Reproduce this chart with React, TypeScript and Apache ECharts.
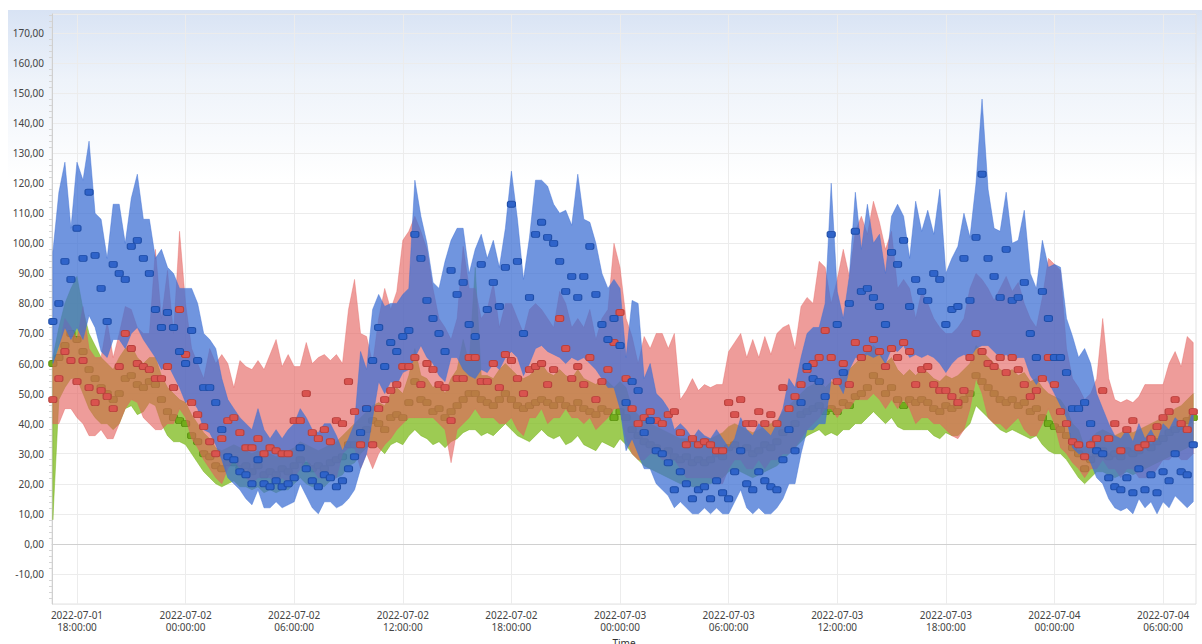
import React, { useEffect, useRef } from "react";
import * as echarts from "echarts";

// X axis is expressed in hours since 2022-07-01 00:00; one sample every 20 minutes from 16:40
const START_HOUR = 16 + 40 / 60;
const STEP_HOURS = 1 / 3;
const X_MIN = 16.62;
const X_MAX = 79.82;

const xTickHours = [18, 24, 30, 36, 42, 48, 54, 60, 66, 72, 78];
const xTickLabels = [
  "2022-07-01\n18:00:00", "2022-07-02\n00:00:00", "2022-07-02\n06:00:00", "2022-07-02\n12:00:00",
  "2022-07-02\n18:00:00", "2022-07-03\n00:00:00", "2022-07-03\n06:00:00", "2022-07-03\n12:00:00",
  "2022-07-03\n18:00:00", "2022-07-04\n00:00:00", "2022-07-04\n06:00:00",
];

const blueMean = [
  74, 80, 94, 88, 105, 95, 117, 96, 85, 74,
  93, 90, 88, 99, 101, 95, 90, 78, 72, 77,
  72, 64, 60, 71, 61, 52, 52, 47, 38, 29,
  28, 24, 23, 20, 28, 20, 19, 21, 19, 20,
  22, 32, 25, 21, 19, 23, 22, 19, 21, 25,
  29, 37, 45, 61, 72, 59, 67, 64, 69, 71,
  103, 95, 81, 75, 70, 64, 91, 83, 87, 73,
  69, 93, 78, 87, 79, 92, 113, 94, 70, 82,
  103, 107, 102, 100, 94, 84, 89, 82, 89, 99,
  83, 73, 68, 75, 66, 47, 54, 51, 37, 41,
  31, 30, 27, 18, 24, 20, 15, 18, 19, 15,
  21, 17, 15, 24, 31, 20, 18, 24, 21, 19,
  18, 28, 38, 31, 47, 59, 55, 54, 49, 103,
  73, 57, 80, 104, 84, 85, 82, 79, 73, 97,
  93, 101, 79, 88, 84, 81, 90, 88, 73, 78,
  79, 95, 81, 102, 123, 95, 89, 82, 98, 81,
  82, 87, 70, 62, 84, 75, 62, 62, 57, 45,
  45, 47, 40, 31, 30, 22, 19, 18, 22, 17,
  25, 18, 23, 17, 24, 21, 30, 24, 23, 33,
];
const blueLow = [
  60, 66, 72, 68, 72, 68, 76, 72, 64, 62,
  68, 68, 65, 70, 72, 68, 65, 62, 58, 60,
  56, 52, 47, 48, 45, 38, 37, 33, 28, 22,
  20, 18, 15, 13, 18, 12, 12, 14, 12, 13,
  14, 20, 16, 12, 10, 14, 14, 12, 13, 15,
  18, 25, 30, 42, 54, 50, 54, 53, 57, 58,
  62, 66, 62, 60, 56, 54, 62, 62, 58, 56,
  55, 58, 57, 60, 58, 62, 64, 62, 56, 60,
  65, 66, 64, 63, 62, 60, 62, 61, 62, 60,
  58, 55, 52, 52, 45, 31, 35, 30, 25, 25,
  20, 18, 16, 12, 14, 12, 10, 10, 12, 10,
  12, 10, 10, 14, 18, 12, 10, 12, 10, 10,
  12, 15, 20, 20, 30, 38, 38, 40, 40, 55,
  54, 50, 58, 62, 62, 63, 62, 63, 60, 65,
  64, 66, 62, 63, 62, 63, 62, 60, 57, 60,
  62, 63, 62, 65, 66, 66, 64, 62, 63, 61,
  62, 62, 56, 53, 56, 54, 50, 46, 42, 32,
  30, 30, 27, 22, 20, 15, 12, 11, 12, 10,
  15, 12, 14, 10, 14, 12, 16, 14, 12, 14,
];
const blueHigh = [
  97, 117, 127, 105, 127, 121, 134, 110, 108, 95,
  113, 113, 100, 115, 123, 108, 108, 95, 98, 92,
  90, 85, 85, 85, 80, 70, 68, 65, 55, 48,
  45, 42, 40, 38, 45, 38, 35, 38, 35, 38,
  40, 45, 42, 38, 37, 40, 40, 36, 31, 35,
  40, 64, 58, 78, 83, 79, 80, 80, 83, 85,
  121, 109, 100, 87, 85, 94, 101, 105, 105, 90,
  98, 103, 95, 101, 92, 105, 124, 108, 88, 102,
  121, 121, 119, 113, 110, 111, 106, 123, 108, 107,
  100, 90, 85, 88, 85, 62, 81, 80, 55, 60,
  50, 48, 45, 38, 40, 38, 35, 38, 36, 35,
  38, 35, 32, 35, 42, 38, 36, 40, 38, 36,
  40, 45, 55, 52, 62, 70, 72, 72, 80, 120,
  84, 75, 89, 117, 98, 113, 100, 103, 90, 109,
  113, 109, 95, 114, 104, 111, 103, 118, 90, 95,
  99, 110, 102, 120, 148, 118, 105, 104, 117, 100,
  101, 111, 90, 85, 101, 92, 93, 92, 75, 69,
  62, 65, 60, 50, 45, 40, 36, 35, 38, 34,
  40, 35, 38, 34, 40, 38, 42, 40, 38, 45,
];

const redMean = [
  48, 55, 64, 61, 54, 61, 52, 47, 51, 49,
  45, 59, 70, 65, 60, 59, 58, 55, 55, 59,
  52, 78, 63, 47, 43, 39, 34, 30, 35, 41,
  42, 37, 32, 32, 35, 30, 32, 31, 30, 30,
  41, 41, 50, 37, 35, 38, 34, 41, 40, 54,
  44, 33, 45, 33, 45, 48, 51, 53, 59, 59,
  62, 53, 60, 58, 53, 52, 41, 55, 55, 62,
  62, 54, 54, 60, 52, 63, 61, 55, 50, 58,
  59, 60, 53, 58, 75, 65, 55, 59, 53, 62,
  48, 54, 58, 67, 77, 55, 45, 40, 42, 44,
  41, 40, 43, 44, 37, 33, 35, 33, 34, 33,
  31, 31, 47, 43, 48, 40, 40, 44, 40, 43,
  40, 52, 45, 49, 53, 58, 60, 62, 71, 62,
  54, 60, 53, 67, 62, 65, 68, 64, 59, 65,
  62, 67, 64, 53, 58, 59, 53, 51, 51, 49,
  47, 51, 62, 70, 64, 60, 59, 62, 57, 62,
  58, 53, 49, 51, 55, 62, 53, 44, 40, 34,
  33, 29, 33, 35, 51, 35, 40, 31, 38, 41,
  32, 33, 35, 39, 42, 44, 48, 40, 38, 44,
];
const redLow = [
  40, 40, 45, 45, 42, 40, 36, 36, 38, 35,
  35, 40, 45, 48, 47, 42, 40, 38, 38, 40,
  40, 45, 42, 35, 32, 28, 25, 22, 20, 25,
  28, 25, 22, 20, 22, 22, 22, 20, 22, 20,
  22, 25, 28, 25, 22, 22, 22, 22, 30, 32,
  32, 25, 30, 25, 30, 33, 35, 38, 40, 42,
  42, 42, 42, 42, 40, 38, 27, 38, 40, 42,
  45, 42, 42, 42, 40, 40, 42, 38, 36, 42,
  42, 45, 40, 42, 42, 45, 42, 42, 40, 42,
  38, 40, 42, 45, 45, 35, 30, 28, 28, 30,
  30, 28, 28, 28, 25, 22, 22, 22, 22, 22,
  20, 20, 25, 28, 28, 25, 25, 28, 25, 28,
  28, 30, 30, 32, 35, 38, 40, 42, 45, 45,
  42, 45, 45, 48, 48, 48, 50, 48, 45, 48,
  45, 48, 45, 40, 42, 42, 40, 40, 38, 36,
  35, 38, 45, 55, 50, 42, 40, 40, 38, 40,
  42, 38, 36, 36, 40, 45, 40, 32, 30, 27,
  25, 22, 25, 25, 28, 25, 25, 22, 25, 25,
  22, 22, 22, 25, 28, 28, 30, 28, 28, 30,
];
const redHigh = [
  60, 65, 75, 72, 68, 79, 65, 62, 62, 74,
  62, 70, 79, 78, 72, 70, 70, 98, 75, 91,
  70, 104, 80, 65, 60, 55, 65, 60, 63, 60,
  52, 61, 59, 58, 61, 58, 63, 68, 59, 63,
  59, 59, 67, 60, 62, 63, 61, 63, 60, 78,
  88, 70, 69, 60, 75, 85, 78, 84, 101, 104,
  109, 104, 98, 85, 75, 72, 68, 75, 99, 85,
  85, 75, 78, 87, 72, 80, 80, 75, 70, 78,
  80, 78, 75, 72, 84, 80, 72, 75, 72, 78,
  68, 75, 78, 100, 92, 75, 69, 60, 69, 65,
  70, 70, 65, 70, 48, 51, 55, 51, 53, 52,
  53, 53, 64, 67, 70, 62, 68, 62, 69, 63,
  70, 72, 73, 65, 79, 82, 80, 94, 92, 80,
  88, 98, 89, 104, 109, 103, 114, 107, 98, 104,
  85, 88, 85, 75, 84, 80, 75, 72, 70, 70,
  72, 75, 85, 90, 88, 85, 81, 85, 89, 84,
  87, 80, 75, 72, 82, 95, 93, 91, 65, 55,
  52, 48, 50, 55, 75, 55, 48, 47, 48, 47,
  49, 53, 53, 53, 53, 60, 64, 59, 69, 67,
];

const greenMean = [
  60, 62, 66, 70, 68, 64, 58, 55, 52, 50,
  48, 50, 55, 56, 53, 52, 54, 53, 48, 44,
  42, 41, 40, 36, 34, 30, 29, 26, 25, 27,
  27, 25, 26, 24, 26, 23, 24, 23, 25, 24,
  26, 28, 26, 25, 26, 25, 27, 28, 29, 33,
  33, 37, 38, 41, 40, 38, 42, 43, 42, 47,
  54, 48, 47, 44, 45, 42, 44, 46, 48, 50,
  50, 48, 47, 46, 48, 50, 48, 46, 45, 46,
  47, 48, 47, 46, 48, 46, 45, 47, 45, 44,
  43, 45, 44, 42, 44, 42, 38, 36, 34, 33,
  32, 30, 31, 29, 28, 29, 27, 28, 27, 28,
  30, 29, 32, 33, 31, 32, 30, 31, 33, 32,
  34, 37, 38, 40, 43, 44, 45, 46, 44, 45,
  44, 47, 46, 49, 50, 52, 56, 54, 50, 52,
  48, 46, 48, 47, 48, 47, 45, 44, 46, 45,
  46, 48, 50, 56, 54, 52, 50, 48, 47, 48,
  46, 47, 44, 45, 42, 40, 39, 38, 36, 32,
  30, 25, 28, 30, 31, 29, 30, 29, 31, 30,
  31, 33, 32, 34, 35, 37, 38, 39, 41, 42,
];
const greenLow = [
  8, 48, 52, 55, 55, 50, 45, 42, 40, 40,
  38, 40, 45, 46, 43, 44, 47, 46, 40, 36,
  34, 34, 33, 30, 27, 24, 22, 20, 19, 20,
  21, 19, 19, 18, 19, 17, 18, 17, 18, 18,
  20, 22, 20, 19, 19, 19, 21, 22, 23, 26,
  27, 30, 32, 34, 32, 30, 33, 34, 33, 36,
  38, 36, 35, 33, 34, 32, 34, 35, 37, 38,
  38, 36, 37, 36, 38, 40, 38, 36, 35, 34,
  36, 38, 36, 35, 36, 33, 34, 36, 33, 32,
  31, 34, 33, 32, 35, 33, 30, 28, 26, 25,
  24, 23, 22, 21, 20, 20, 19, 19, 20, 20,
  21, 22, 24, 25, 24, 23, 22, 23, 24, 25,
  26, 28, 30, 32, 34, 36, 37, 38, 36, 37,
  36, 38, 38, 40, 40, 42, 44, 42, 40, 42,
  39, 38, 38, 38, 38, 38, 36, 35, 37, 36,
  36, 38, 40, 46, 44, 42, 40, 38, 37, 38,
  37, 36, 35, 36, 33, 31, 30, 30, 28, 25,
  22, 20, 22, 24, 24, 23, 22, 23, 24, 23,
  24, 25, 26, 27, 28, 29, 30, 31, 32, 34,
];
const greenHigh = [
  62, 72, 80, 85, 89, 78, 70, 66, 62, 60,
  58, 62, 65, 66, 62, 60, 62, 62, 56, 52,
  50, 48, 47, 43, 40, 37, 35, 32, 31, 32,
  33, 32, 31, 30, 31, 30, 30, 29, 30, 31,
  32, 34, 33, 32, 31, 32, 33, 34, 36, 38,
  40, 42, 44, 46, 47, 46, 50, 52, 50, 56,
  65, 56, 55, 52, 54, 50, 55, 58, 68, 60,
  92, 56, 56, 55, 58, 60, 58, 56, 55, 56,
  58, 60, 57, 56, 58, 56, 55, 58, 55, 54,
  53, 55, 54, 52, 54, 52, 45, 43, 41, 40,
  39, 38, 37, 36, 35, 35, 34, 34, 35, 35,
  36, 37, 39, 40, 39, 38, 37, 38, 39, 40,
  41, 44, 46, 48, 50, 52, 53, 55, 52, 54,
  53, 58, 58, 60, 62, 64, 66, 64, 60, 62,
  58, 56, 58, 56, 58, 57, 55, 54, 56, 55,
  56, 58, 60, 66, 64, 62, 60, 58, 57, 58,
  56, 57, 54, 55, 52, 50, 49, 48, 45, 40,
  38, 32, 35, 37, 38, 37, 36, 37, 38, 37,
  38, 39, 40, 41, 42, 43, 45, 46, 48, 50,
];

function hourAt(i: number): number {
  return START_HOUR + i * STEP_HOURS;
}

function bandSeries(key: string, low: number[], high: number[], fill: string, edge: string, z: number): any {
  return {
    type: "custom",
    name: key + " range",
    data: low.map((v, i) => [hourAt(i), v, high[i]]),
    encode: { x: 0, y: [1, 2] },
    silent: true,
    z,
    renderItem: (params: any, api: any) => {
      if (params.dataIndex !== 0) return null;
      const upper = high.map((v, i) => api.coord([hourAt(i), v]));
      const lower = low.map((v, i) => api.coord([hourAt(i), v])).reverse();
      return {
        type: "polygon",
        shape: { points: upper.concat(lower) },
        style: { fill, stroke: edge, lineWidth: 0.6 },
      };
    },
  };
}

function markerSeries(key: string, mean: number[], fill: string, border: string, z: number): any {
  return {
    type: "scatter",
    name: key,
    data: mean.map((v, i) => [hourAt(i), v]),
    symbol: "roundRect",
    symbolSize: [8, 6],
    itemStyle: { color: fill, borderColor: border, borderWidth: 1, opacity: 1 },
    silent: true,
    z,
  };
}

export default function App() {
  const ref = useRef<HTMLDivElement>(null);

  useEffect(() => {
    if (!ref.current) return;
    const chart = echarts.init(ref.current, undefined, { renderer: "svg" });
    const font = "'Noto Sans', 'Open Sans', sans-serif";
    chart.setOption({
      animation: false,
      backgroundColor: "transparent",
      textStyle: { fontFamily: font },
      grid: {
        left: 52,
        right: 6,
        top: 14,
        bottom: 40,
        outerBoundsMode: "none",
        containLabel: false,
        show: true,
        borderColor: "#e3e3e3",
        borderWidth: 1,
        backgroundColor: "transparent",
      },
      xAxis: {
        type: "value",
        min: X_MIN,
        max: X_MAX,
        name: "Time",
        nameLocation: "middle",
        nameGap: 29,
        nameTextStyle: { color: "#333", fontSize: 10, lineHeight: 10, fontFamily: font },
        axisLine: { show: true, lineStyle: { color: "#d0d0d0" } },
        axisTick: { show: false, customValues: xTickHours },
        axisLabel: {
          customValues: xTickHours,
          formatter: (v: number) => {
            const k = xTickHours.findIndex((t) => Math.abs(t - v) < 0.01);
            return k >= 0 ? xTickLabels[k] : "";
          },
          color: "#444",
          fontSize: 10,
          lineHeight: 12,
          margin: 5,
          fontFamily: font,
        },
        splitLine: { show: true, lineStyle: { color: "#ececec", width: 1 } },
      },
      yAxis: {
        type: "value",
        min: -20,
        max: 176.3,
        interval: 10,
        axisLine: { show: true, lineStyle: { color: "#d0d0d0" } },
        axisTick: { show: false },
        minorTick: { show: true, splitNumber: 5, length: 3, lineStyle: { color: "#d5d5d5" } },
        axisLabel: {
          showMinLabel: false,
          showMaxLabel: false,
          formatter: (v: number) => v.toFixed(2).replace(".", ","),
          color: "#444",
          fontSize: 10,
          margin: 8,
          fontFamily: font,
        },
        splitLine: { show: true, lineStyle: { color: "#ececec", width: 1 } },
      },
      series: [
        bandSeries("green", greenLow, greenHigh, "rgba(132,190,40,0.8)", "rgba(120,180,30,0.8)", 2),
        markerSeries("green mean", greenMean, "#72ac1c", "#5c9212", 3),
        bandSeries("red", redLow, redHigh, "rgba(228,96,92,0.62)", "rgba(228,96,92,0.6)", 4),
        bandSeries("blue", blueLow, blueHigh, "rgba(62,112,212,0.74)", "rgba(62,112,212,0.75)", 5),
        markerSeries("red mean", redMean, "#d9534f", "#b8403c", 6),
        markerSeries("blue mean", blueMean, "#2f63c9", "#1f4ea8", 7),
      ],
    });
    return () => chart.dispose();
  }, []);

  return (
    <div style={{ position: "fixed", left: 0, top: 0, width: 1202, height: 644, background: "#ffffff" }}>
      <div
        style={{
          position: "absolute",
          left: 8,
          top: 10,
          right: 0,
          bottom: 0,
          background: "linear-gradient(to bottom, #d8e3f4 0px, #eef3fa 70px, #ffffff 170px)",
        }}
      />
      <div ref={ref} style={{ position: "absolute", left: 0, top: 0, width: 1202, height: 644 }} />
    </div>
  );
}
